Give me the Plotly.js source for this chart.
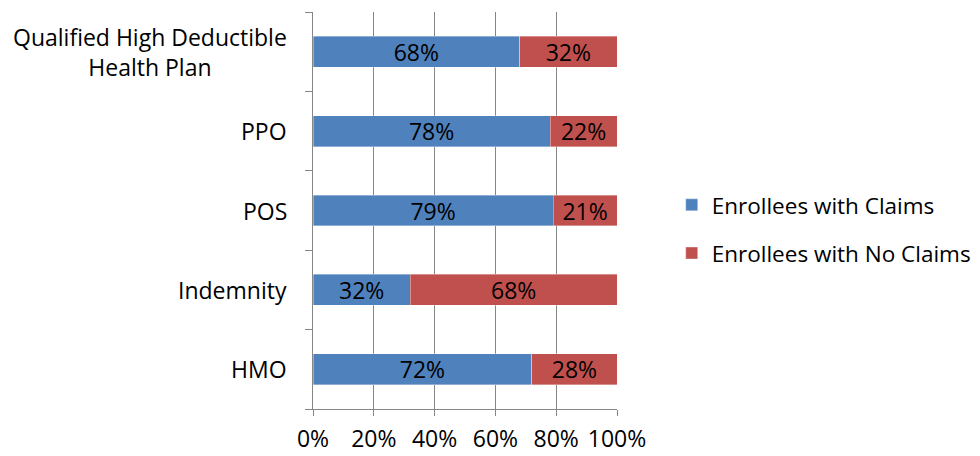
<!DOCTYPE html>
<html>
<head>
<meta charset="utf-8">
<script src="https://cdn.plot.ly/plotly-3.0.1.min.js"></script>
<style>
  html, body { margin: 0; padding: 0; background: #fff; }
  #chart { width: 980px; height: 456px; }
</style>
</head>
<body>
<div id="chart"></div>
<script>
// Plan types, bottom to top
const categories = ['HMO', 'Indemnity', 'POS', 'PPO', 'Qualified High Deductible<br>Health Plan'];
const withClaims = [72, 32, 79, 78, 68];
const noClaims = [28, 68, 21, 22, 32];
const seriesNames = ['Enrollees with Claims', 'Enrollees with No Claims'];
const xTicks = [0, 20, 40, 60, 80, 100];

const FONT = 'Open Sans, Liberation Sans, sans-serif';
const GRID = '#868686';

const barStyle = (color) => ({ color: color, line: { color: 'rgba(255,255,255,0.6)', width: 0.6 } });

const makeTrace = (name, values, color, group) => ({
  type: 'bar', orientation: 'h', name: name,
  y: categories, x: values, legendgroup: group,
  marker: barStyle(color),
  text: values.map(v => v + '%'), textposition: 'inside',
  insidetextanchor: 'middle', textangle: 0, constraintext: 'none',
  textfont: { family: FONT, size: 23, color: '#000' },
  hoverinfo: 'skip'
});

const traces = [
  makeTrace(seriesNames[0], withClaims, '#4F81BD', 'a'),
  makeTrace(seriesNames[1], noClaims, '#C0504D', 'b')
];

// Category labels centred line by line to the left of the axis
const labelAnnotations = categories.map(c => ({
  xref: 'paper', yref: 'y', x: -0.08, y: c,
  text: c, showarrow: false, xanchor: 'right', align: 'center',
  font: { family: FONT, size: 23, color: '#000' }
}));

const layout = {
  width: 980, height: 456,
  margin: { l: 313, r: 363, t: 12, b: 47, autoexpand: false },
  paper_bgcolor: '#fff', plot_bgcolor: '#fff',
  barmode: 'stack', bargap: 0.61,
  showlegend: true,
  legend: {
    x: 1.18, xanchor: 'left', y: 0.453, yanchor: 'middle',
    traceorder: 'grouped', tracegroupgap: 16,
    font: { family: FONT, size: 22.5, color: '#000' },
    itemwidth: 30
  },
  xaxis: {
    range: [0, 100], tickvals: xTicks, ticktext: xTicks.map(v => v + '%'),
    showgrid: true, gridcolor: GRID, gridwidth: 1,
    showline: true, linecolor: GRID, linewidth: 1,
    ticks: 'outside', ticklen: 6, tickcolor: GRID, ticklabelstandoff: 3,
    tickfont: { family: FONT, size: 23, color: '#000' },
    zeroline: false, fixedrange: true, automargin: false
  },
  yaxis: {
    type: 'category', categoryarray: categories,
    showticklabels: false,
    showline: true, linecolor: GRID, linewidth: 1,
    ticks: 'outside', ticklen: 7, tickcolor: GRID, tickson: 'boundaries',
    showgrid: false, zeroline: false, fixedrange: true, automargin: false
  },
  annotations: labelAnnotations
};

Plotly.newPlot('chart', traces, layout, { staticPlot: true, displayModeBar: false });
</script>
</body>
</html>
